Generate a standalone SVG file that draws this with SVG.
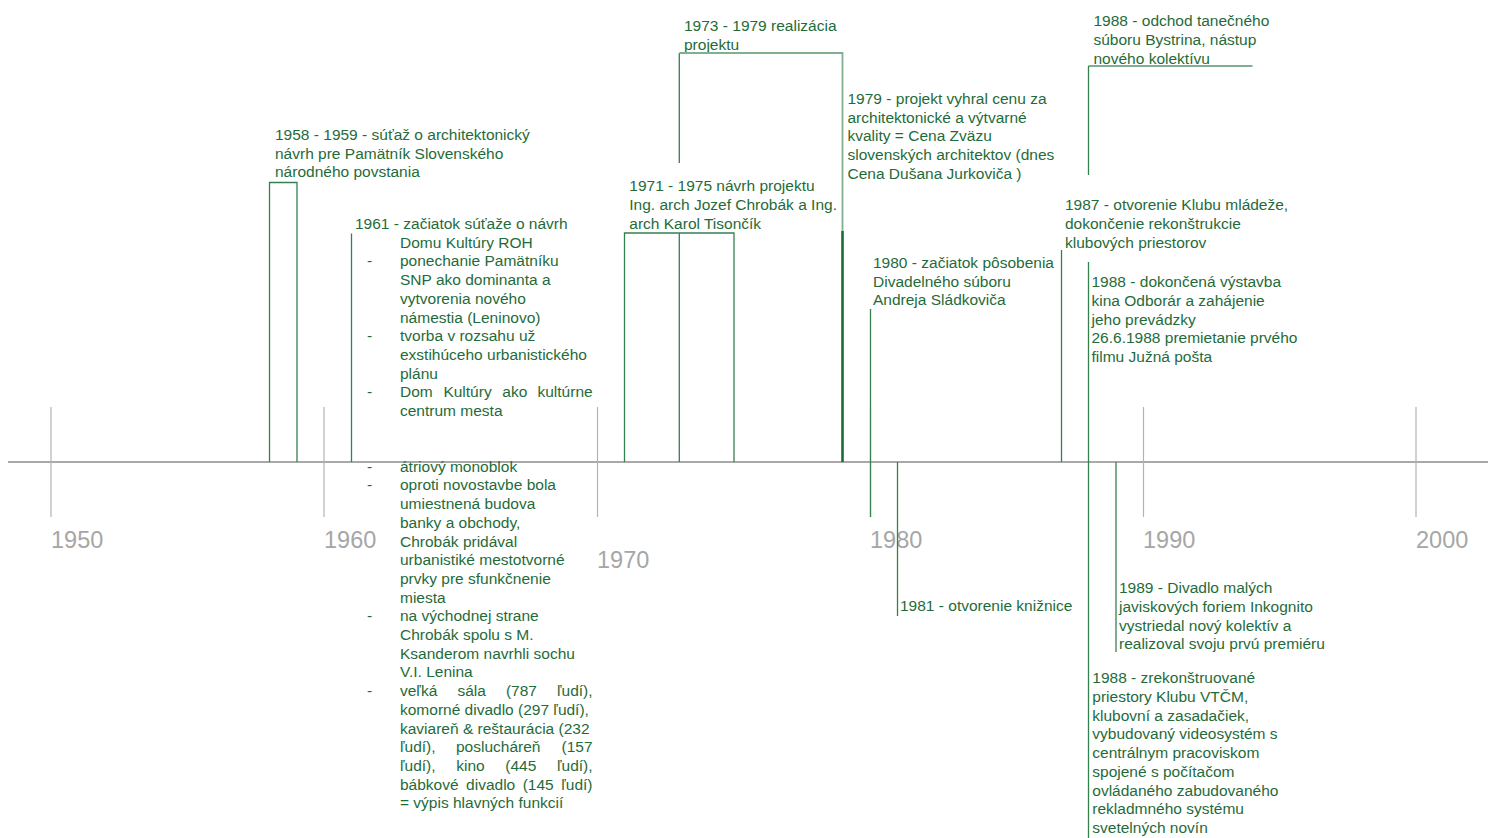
<svg xmlns="http://www.w3.org/2000/svg" width="1488" height="838" viewBox="0 0 1488 838">
<style>
.t{font-family:"Liberation Sans",Arial,sans-serif;font-size:15.5px;fill:#1f6b3a}
.e{text-anchor:end}
.yr{font-family:"Liberation Sans",Arial,sans-serif;font-size:23.5px;fill:#a6a6a6}
.ln{stroke:#35804f;stroke-width:1.3;fill:none}
.lt{stroke:#80b090;stroke-width:1.8;fill:none}
.tk{stroke:#b3b3b3;stroke-width:1.2;fill:none}
.ax{stroke:#8c8c8c;stroke-width:1.3;fill:none}
.thick{stroke:#1a6b35;stroke-width:2.6;fill:none}
</style>
<rect width="1488" height="838" fill="#ffffff"/>
<g id="axis">
<line class="ax" x1="8" y1="462" x2="1488" y2="462"/>
<line class="tk" x1="51" y1="407" x2="51" y2="517"/>
<line class="tk" x1="324" y1="407" x2="324" y2="517"/>
<line class="tk" x1="597.5" y1="407" x2="597.5" y2="517"/>
<line class="tk" x1="870.5" y1="407" x2="870.5" y2="517"/>
<line class="tk" x1="1143.5" y1="407" x2="1143.5" y2="517"/>
<line class="tk" x1="1416" y1="407" x2="1416" y2="517"/>
<text class="yr" x="51" y="548">1950</text>
<text class="yr" x="324" y="548">1960</text>
<text class="yr" x="597" y="568">1970</text>
<text class="yr" x="870" y="548">1980</text>
<text class="yr" x="1143" y="548">1990</text>
<text class="yr" x="1416" y="548">2000</text>
</g>
<g id="e1958">
<text class="t"><tspan x="275" y="140">1958 - 1959 - súťaž o architektonický</tspan><tspan x="275" y="158.7">návrh pre Pamätník Slovenského</tspan><tspan x="275" y="177.4">národného povstania</tspan></text>
</g>
<g id="e1961">
<text class="t"><tspan x="355" y="229">1961 - začiatok súťaže o návrh</tspan><tspan x="400" y="247.7">Domu Kultúry ROH</tspan>
<tspan x="367" y="266.4">-</tspan><tspan x="400" y="266.4">ponechanie Pamätníku</tspan>
<tspan x="400" y="285.1">SNP ako dominanta a</tspan>
<tspan x="400" y="303.8">vytvorenia nového</tspan>
<tspan x="400" y="322.5">námestia (Leninovo)</tspan>
<tspan x="367" y="341.2">-</tspan><tspan x="400" y="341.2">tvorba v rozsahu už</tspan>
<tspan x="400" y="359.9">exstihúceho urbanistického</tspan>
<tspan x="400" y="378.6">plánu</tspan>
<tspan x="367" y="397.3">-</tspan><tspan x="400" y="397.3">Dom</tspan><tspan x="443.4" y="397.3">Kultúry</tspan><tspan x="502.3" y="397.3">ako</tspan><tspan x="537.5" y="397.3">kultúrne</tspan>
<tspan x="400" y="416">centrum mesta</tspan>
<tspan x="367" y="471.7">-</tspan><tspan x="400" y="471.7">átriový monoblok</tspan>
<tspan x="367" y="490.4">-</tspan><tspan x="400" y="490.4">oproti novostavbe bola</tspan>
<tspan x="400" y="509.1">umiestnená budova</tspan>
<tspan x="400" y="527.8">banky a obchody,</tspan>
<tspan x="400" y="546.5">Chrobák pridával</tspan>
<tspan x="400" y="565.2">urbanistiké mestotvorné</tspan>
<tspan x="400" y="583.9">prvky pre sfunkčnenie</tspan>
<tspan x="400" y="602.6">miesta</tspan>
<tspan x="367" y="621.3">-</tspan><tspan x="400" y="621.3">na východnej strane</tspan>
<tspan x="400" y="640">Chrobák spolu s M.</tspan>
<tspan x="400" y="658.7">Ksanderom navrhli sochu</tspan>
<tspan x="400" y="677.4">V.I. Lenina</tspan>
<tspan x="367" y="696.1">-</tspan><tspan x="400" y="696.1">veľká</tspan><tspan x="457.4" y="696.1">sála</tspan><tspan x="505.9" y="696.1">(787</tspan><tspan x="557" y="696.1">ľudí),</tspan>
<tspan x="400" y="714.8">komorné divadlo (297 ľudí),</tspan>
<tspan x="400" y="733.5">kaviareň &amp; reštaurácia (232</tspan>
<tspan x="400" y="752.2">ľudí),</tspan><tspan x="456" y="752.2">poslucháreň</tspan><tspan x="561.5" y="752.2">(157</tspan>
<tspan x="400" y="770.9">ľudí),</tspan><tspan x="456.2" y="770.9">kino</tspan><tspan x="505.3" y="770.9">(445</tspan><tspan x="557" y="770.9">ľudí),</tspan>
<tspan x="400" y="789.6">bábkové</tspan><tspan x="466.1" y="789.6">divadlo</tspan><tspan x="522.7" y="789.6">(145</tspan><tspan x="561.3" y="789.6">ľudí)</tspan>
<tspan x="400" y="808.3">= výpis hlavných funkcií</tspan></text>
</g>
<g id="e1971">
<text class="t"><tspan x="629.3" y="191.2">1971 - 1975 návrh projektu</tspan><tspan x="629.3" y="209.9">Ing. arch Jozef Chrobák a Ing.</tspan><tspan x="629.3" y="228.6">arch Karol Tisončík</tspan></text>
</g>
<g id="e1973">
<text class="t"><tspan x="684" y="31">1973 - 1979 realizácia</tspan><tspan x="684" y="49.5">projektu</tspan></text>
</g>
<g id="e1979">
<text class="t"><tspan x="847.5" y="104">1979 - projekt vyhral cenu za</tspan><tspan x="847.5" y="122.7">architektonické a výtvarné</tspan><tspan x="847.5" y="141.4">kvality = Cena Zväzu</tspan><tspan x="847.5" y="160.1">slovenských architektov (dnes</tspan><tspan x="847.5" y="178.8">Cena Dušana Jurkoviča )</tspan></text>
</g>
<g id="e1980">
<text class="t"><tspan x="873" y="268">1980 - začiatok pôsobenia</tspan><tspan x="873" y="286.7">Divadelného súboru</tspan><tspan x="873" y="305.4">Andreja Sládkoviča</tspan></text>
</g>
<g id="e1981">
<text class="t" x="900" y="611">1981 - otvorenie knižnice</text>
</g>
<g id="e1987">
<text class="t"><tspan x="1065" y="210.2">1987 - otvorenie Klubu mládeže,</tspan><tspan x="1065" y="228.9">dokončenie rekonštrukcie</tspan><tspan x="1065" y="247.6">klubových priestorov</tspan></text>
</g>
<g id="e1988a">
<text class="t"><tspan x="1093.5" y="26.2">1988 - odchod tanečného</tspan><tspan x="1093.5" y="44.9">súboru Bystrina, nástup</tspan><tspan x="1093.5" y="63.6">nového kolektívu</tspan></text>
</g>
<g id="e1988b">
<text class="t"><tspan x="1091.5" y="287.3">1988 - dokončená výstavba</tspan><tspan x="1091.5" y="306">kina Odborár a zahájenie</tspan><tspan x="1091.5" y="324.7">jeho prevádzky</tspan><tspan x="1091.5" y="343.4">26.6.1988 premietanie prvého</tspan><tspan x="1091.5" y="362.1">filmu Južná pošta</tspan></text>
</g>
<g id="e1989">
<text class="t"><tspan x="1119" y="593.3">1989 - Divadlo malých</tspan><tspan x="1119" y="612">javiskových foriem Inkognito</tspan><tspan x="1119" y="630.7">vystriedal nový kolektív a</tspan><tspan x="1119" y="649.4">realizoval svoju prvú premiéru</tspan></text>
</g>
<g id="e1988c">
<text class="t"><tspan x="1092.3" y="683.3">1988 - zrekonštruované</tspan><tspan x="1092.3" y="702">priestory Klubu VTČM,</tspan><tspan x="1092.3" y="720.7">klubovní a zasadačiek,</tspan><tspan x="1092.3" y="739.4">vybudovaný videosystém s</tspan><tspan x="1092.3" y="758.1">centrálnym pracoviskom</tspan><tspan x="1092.3" y="776.8">spojené s počítačom</tspan><tspan x="1092.3" y="795.5">ovládaného zabudovaného</tspan><tspan x="1092.3" y="814.2">rekladmného systému</tspan><tspan x="1092.3" y="832.9">svetelných novín</tspan></text>
</g>
<g id="connectors">
<path class="ln" d="M269.5,462 V182.5 H297 V462"/>
<path class="ln" d="M351.5,233.5 V462"/>
<path class="ln" d="M624.5,462 V233 H734 V462"/>
<path class="ln" d="M679.3,233 V462"/>
<path class="ln" d="M679.3,163 V53"/>
<path class="lt" d="M679.3,53 H842.5 V231"/>
<path class="thick" d="M842.5,231 V462"/>
<path class="ln" d="M870.5,309 V517"/>
<path class="ln" d="M897.5,462 V616"/>
<path class="ln" d="M1061.5,250 V462"/>
<path class="lt" d="M1252.5,66 H1088.5"/>
<path class="ln" d="M1088.5,66 V175"/>
<path class="ln" d="M1088.5,262 V838"/>
<path class="ln" d="M1116,462 V652"/>
</g>
</svg>
